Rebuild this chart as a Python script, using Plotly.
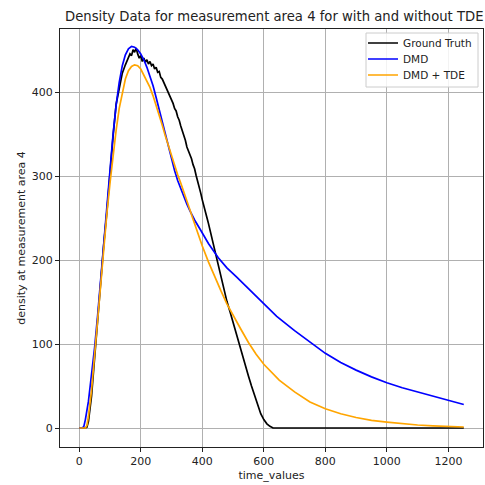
import plotly.graph_objects as go

# ---- data ----
gt_t = [0, 10, 20, 25, 30, 40, 50, 60, 70, 80,
        90, 100, 110, 120, 130, 140, 150, 155, 160, 165,
        170, 175, 180, 185, 190, 195, 200, 205, 210, 215,
        220, 225, 230, 235, 240, 245, 250, 255, 260, 265,
        270, 275, 280, 285, 290, 295, 300, 305, 310, 315,
        320, 325, 330, 335, 340, 345, 350, 355, 360, 365,
        370, 375, 380, 385, 390, 395, 400, 405, 410, 415,
        420, 425, 430, 435, 440, 445, 450, 455, 460, 465,
        470, 475, 480, 490, 500, 510, 520, 530, 540, 550,
        560, 570, 580, 590, 600, 610, 620, 630, 640, 1250]
gt_v = [0, 0, 0, 1, 8, 38, 85, 132, 178, 220,
        258, 305, 348, 386, 405, 423, 433, 437, 441, 446,
        444, 451, 448, 453, 446, 441, 444, 437, 441, 436,
        439, 434, 437, 432, 434, 428, 430, 424, 425, 418,
        416, 412, 407, 403, 398, 396, 390, 387, 381, 378,
        371, 367, 360, 355, 348, 343, 335, 331, 325, 321,
        314, 309, 301, 295, 287, 280, 272, 266, 258, 251,
        244, 236, 229, 222, 214, 207, 199, 190, 182, 174,
        167, 159, 151, 139, 126, 112, 98, 85, 73, 62,
        50, 38, 27, 17, 10, 5, 2, 0, 0, 0]

dmd_t = [0, 10, 15, 20, 30, 40, 50, 60, 75, 90,
         100, 110, 120, 130, 140, 150, 160, 170, 180, 190,
         200, 210, 220, 230, 240, 250, 260, 270, 280, 290,
         300, 310, 320, 330, 340, 350, 360, 375, 393, 420,
         452, 480, 512, 540, 566, 600, 642, 700, 750, 800,
         850, 900, 950, 1000, 1050, 1100, 1150, 1200, 1250]
dmd_v = [0, 0, 2, 10, 32, 62, 96, 135, 200, 268,
         310, 350, 385, 412, 432, 445, 452, 455, 454, 451,
         446, 439, 430, 420, 408, 394, 379, 364, 350, 335,
         321, 307, 295, 285, 276, 267, 259, 248, 237, 220,
         203, 191, 180, 170, 160, 148, 133, 116, 102, 89,
         78, 69, 61, 54, 48, 43, 38, 33, 28]

tde_t = [0, 20, 25, 30, 40, 50, 60, 70, 80, 90,
         100, 110, 120, 130, 140, 150, 160, 170, 180, 190,
         200, 210, 220, 230, 240, 250, 260, 270, 280, 290,
         300, 310, 320, 330, 340, 350, 360, 370, 380, 390,
         400, 420, 440, 460, 480, 500, 525, 550, 575, 600,
         650, 700, 750, 800, 850, 900, 950, 1000, 1050, 1100,
         1150, 1200, 1250]
tde_v = [0, 0, 3, 14, 45, 88, 133, 177, 218, 256,
         292, 325, 355, 381, 401, 416, 426, 431, 433, 432,
         428, 421, 414, 406, 396, 385, 373, 361, 348, 336,
         324, 312, 302, 292, 282, 271, 260, 249, 238, 227,
         217, 198, 180, 164, 148, 134, 118, 102, 88, 76,
         57, 43, 31, 23, 17, 12.5, 9, 7, 5, 3.6,
         2.6, 1.8, 1.2]

x_ticks = [0, 200, 400, 600, 800, 1000, 1200]
y_ticks = [0, 100, 200, 300, 400]

title = "Density Data for measurement area 4 for with and without TDE"
x_label = "time_values"
y_label = "density at measurement area 4"

FONT = "DejaVu Sans"
TXT = "#222222"
LW = 1.7

# plot-area geometry in pixels (for placing the legend pieces)
W, H = 485, 485
ML, MR, MT, MB = 60, 2, 29, 38
PW, PH = W - ML - MR, H - MT - MB


def px_x(p):
    return (p - ML) / PW


def px_y(p):
    return (H - MB - p) / PH


fig = go.Figure()
fig.add_trace(go.Scatter(x=gt_t, y=gt_v, mode="lines", name="Ground Truth",
                         line=dict(color="black", width=LW), legend="legend"))
fig.add_trace(go.Scatter(x=dmd_t, y=dmd_v, mode="lines", name="DMD",
                         line=dict(color="#0000ff", width=LW), legend="legend2"))
fig.add_trace(go.Scatter(x=tde_t, y=tde_v, mode="lines", name="DMD + TDE",
                         line=dict(color="#ffa500", width=LW), legend="legend3"))

axis_common = dict(
    showline=True, mirror=True, linecolor=TXT, linewidth=1,
    ticks="outside", ticklen=4, tickcolor=TXT, tickwidth=1,
    showgrid=True, gridcolor="#b0b0b0", gridwidth=0.9,
    zeroline=False,
    tickfont=dict(family=FONT, size=11, color=TXT),
)

leg_common = dict(xanchor="left", yanchor="middle", bgcolor="rgba(0,0,0,0)",
                  borderwidth=0, font=dict(family=FONT, size=10.5, color=TXT),
                  itemwidth=30)

fig.update_layout(
    width=W, height=H,
    margin=dict(l=ML, r=MR, t=MT, b=MB),
    paper_bgcolor="white", plot_bgcolor="white",
    font=dict(family=FONT, size=11, color=TXT),
    showlegend=True,
    legend=dict(x=px_x(363), y=px_y(43), **leg_common),
    legend2=dict(x=px_x(363), y=px_y(59), **leg_common),
    legend3=dict(x=px_x(363), y=px_y(75), **leg_common),
    shapes=[dict(type="rect", xref="paper", yref="paper",
                 x0=px_x(366), x1=px_x(478), y0=px_y(87), y1=px_y(33),
                 line=dict(color="#cccccc", width=1),
                 fillcolor="rgba(255,255,255,0.85)", layer="above")],
    annotations=[dict(text=title, x=px_x(63), xref="paper", xanchor="left",
                      y=1 + 12.5 / PH, yref="paper", yanchor="middle",
                      showarrow=False,
                      font=dict(family=FONT, size=13.2, color=TXT))],
)
fig.update_xaxes(range=[-62.5, 1312.5], tickvals=x_ticks,
                 title=dict(text=x_label, standoff=4,
                            font=dict(family=FONT, size=11, color=TXT)),
                 **axis_common)
fig.update_yaxes(range=[-22.65, 475.7], tickvals=y_ticks,
                 title=dict(text=y_label, standoff=3,
                            font=dict(family=FONT, size=11, color=TXT)),
                 **axis_common)

fig.write_html("out.html")
